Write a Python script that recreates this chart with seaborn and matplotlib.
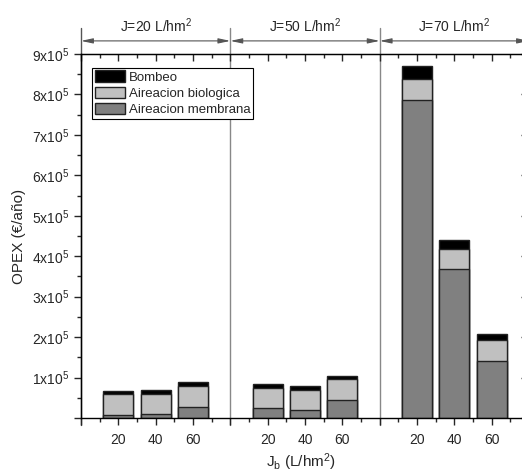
import matplotlib
matplotlib.use("Agg")
import matplotlib.pyplot as plt
import matplotlib.patches as mpatches
import matplotlib.ticker as ticker
import numpy as np
import pandas as pd
import seaborn as sns

# J groups (top) and Jb categories (bottom)
flux_groups = ["J=20 L/hm$^2$", "J=50 L/hm$^2$", "J=70 L/hm$^2$"]
jb_labels = ["20", "40", "60"]

# OPEX components (EUR/year), one value per bar, group by group
membrana = [8000, 9000, 26000, 23500, 19000, 44000, 787000, 368000, 141000]
biologica = [51000, 51000, 52000, 51000, 51000, 52000, 51000, 51000, 51000]
bombeo = [8000, 9000, 10000, 8500, 8500, 8000, 33000, 22000, 15000]

sns.set_style("ticks")
plt.rcParams['font.family'] = ['Liberation Sans', 'DejaVu Sans']
plt.rcParams['mathtext.fontset'] = 'custom'
plt.rcParams['mathtext.rm'] = 'Liberation Sans'
plt.rcParams['mathtext.it'] = 'Liberation Sans:italic'
plt.rcParams['font.size'] = 10

pos = [4 * g + k + 1 for g in range(len(flux_groups)) for k in range(len(jb_labels))]
df = pd.DataFrame({"pos": pos, "mem": membrana, "bio": biologica, "bomb": bombeo})
df["bio_top"] = df["mem"] + df["bio"]
df["total"] = df["bio_top"] + df["bomb"]

fig = plt.figure(figsize=(5.22, 4.75), dpi=100)
ax = fig.add_axes([81 / 522, 57 / 475, 448 / 522, 364 / 475])

c_bomb, c_bio, c_mem = "#000000", "#c0c0c0", "#808080"
for col, c in [("total", c_bomb), ("bio_top", c_bio), ("mem", c_mem)]:
    sns.barplot(data=df, x="pos", y=col, native_scale=True, color=c, saturation=1,
                edgecolor="#222222", linewidth=1, width=0.8, errorbar=None, ax=ax)

ax.set_xlim(0, 12)
ax.set_ylim(0, 9e5)

# x ticks
ax.set_xticks(range(0, 13))
ax.set_xticklabels(["" if i % 4 == 0 else jb_labels[i % 4 - 1] for i in range(13)])
ax.xaxis.set_minor_locator(ticker.MultipleLocator(0.5))
ax.tick_params(axis='x', which='major', direction='out', length=5, width=1, pad=6, labelsize=10)
ax.tick_params(axis='x', which='minor', direction='out', length=3, width=1)

# y ticks
ax.yaxis.set_major_locator(ticker.MultipleLocator(1e5))
ax.yaxis.set_minor_locator(ticker.MultipleLocator(0.5e5))
ax.yaxis.set_major_formatter(ticker.FuncFormatter(
    lambda v, p: "" if v == 0 else "%dx10$^5$" % round(v / 1e5)))
ax.tick_params(axis='y', which='major', direction='out', length=5, width=1, labelsize=10)
ax.tick_params(axis='y', which='minor', direction='out', length=3, width=1)

for s in ax.spines.values():
    s.set_color("black")
    s.set_linewidth(1)

top = ax.secondary_xaxis('top')
top.set_xticks(range(0, 13))
top.xaxis.set_minor_locator(ticker.MultipleLocator(0.5))
top.xaxis.set_major_formatter(ticker.NullFormatter())
top.tick_params(which='major', direction='in', length=5, width=1)
top.tick_params(which='minor', direction='in', length=3, width=1)

right = ax.secondary_yaxis('right')
right.yaxis.set_major_locator(ticker.MultipleLocator(1e5))
right.yaxis.set_minor_locator(ticker.MultipleLocator(0.5e5))
right.yaxis.set_major_formatter(ticker.NullFormatter())
right.tick_params(which='major', direction='in', length=6, width=1)
right.tick_params(which='minor', direction='in', length=3, width=1)

# group separators, arrows and group labels
trans = ax.get_xaxis_transform()
for xs in [0, 4, 8, 12]:
    ax.plot([xs, xs], [-0.02, 1.071], transform=trans, color="#888888" if xs else "#555555",
            lw=1, clip_on=False, zorder=0)
for g, lab in enumerate(flux_groups):
    ax.annotate("", xy=(4 * g, 1.036), xytext=(4 * g + 4, 1.036), xycoords=trans, textcoords=trans,
                arrowprops=dict(arrowstyle="<|-|>,head_length=0.7,head_width=0.15",
                                color="#555555", lw=0.8, shrinkA=0, shrinkB=0))
    ax.text(4 * g + 2, 1.078, lab, transform=trans, ha="center", va="center", fontsize=10)

handles = [mpatches.Patch(facecolor=c_bomb, edgecolor="#222222", label="Bombeo"),
           mpatches.Patch(facecolor=c_bio, edgecolor="#222222", label="Aireacion biologica"),
           mpatches.Patch(facecolor=c_mem, edgecolor="#222222", label="Aireacion membrana")]
leg = ax.legend(handles=handles, loc="upper left", bbox_to_anchor=(0.025, 0.962),
                fancybox=False, edgecolor="black", framealpha=1, borderpad=0.2,
                handlelength=2.3, handleheight=0.95, labelspacing=0.22, handletextpad=0.3,
                borderaxespad=0, fontsize=9.5)
leg.get_frame().set_linewidth(0.8)

ax.set_ylabel("OPEX (€/año)", fontsize=11, labelpad=4)
ax.set_xlabel(r"J$_\mathrm{b}$ (L/hm$^2$)", fontsize=11)
ax.xaxis.set_label_coords(0.49, -0.093)

fig.savefig("out.png", dpi=100)
